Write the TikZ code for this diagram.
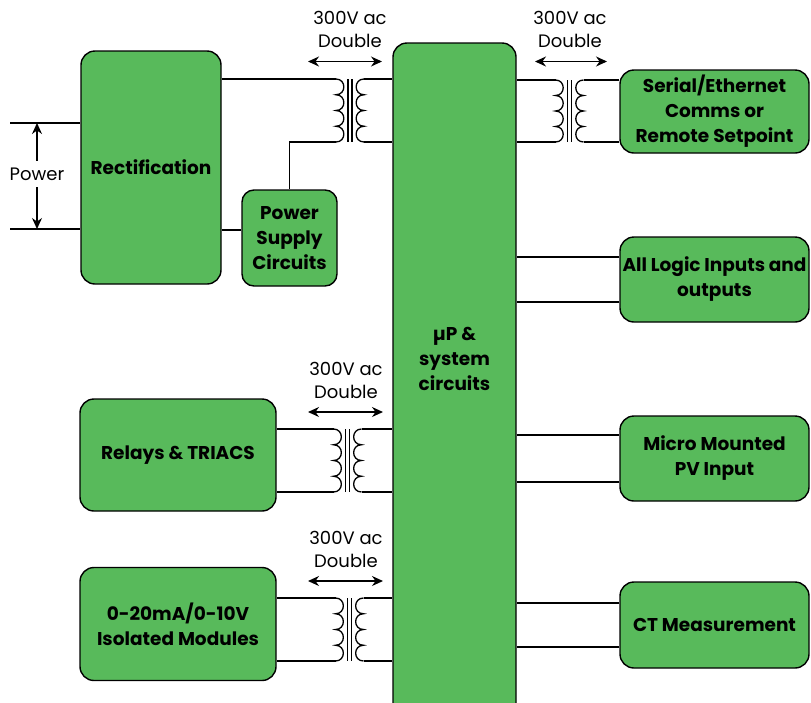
\documentclass[tikz,border=0pt]{standalone}
\usepackage{fontspec}
\setmainfont{Poppins}
\usetikzlibrary{calc,arrows.meta}
\definecolor{boxgreen}{RGB}{88,186,91}
\tikzset{
         blk/.style={draw=black,line width=1.4pt,fill=boxgreen,rounded corners=14pt,
                     align=center,inner sep=0pt,font=\fontsize{18.5}{25}\selectfont\bfseries},
         wire/.style={line width=1.4pt},
         coil/.style={line width=1.3pt},
         dim/.style={line width=1.3pt,>={Stealth[length=11pt,width=10pt]}},
         lbl/.style={align=center,inner sep=0pt,font=\fontsize{18}{23}\selectfont}
        }
% transformer: name, core x, top y, bottom y
\newcommand{\xfmr}[4]{%
    \coordinate (#1a) at (#2-14,#3); % left top
    \coordinate (#1b) at (#2-14,#4); % left bottom
    \coordinate (#1c) at (#2+14,#3); % right top
    \coordinate (#1d) at (#2+14,#4); % right bottom
    \draw[coil] (#2-2,#3) -- (#2-2,#4) (#2+2,#3) -- (#2+2,#4); % core
    \draw[coil] (#1a) \foreach \k in {1,...,4}{to[out=0,in=0,looseness=1.7] ++(0,{(#4-#3)/4})}; % left winding
    \draw[coil] (#1c) \foreach \k in {1,...,4}{to[out=180,in=180,looseness=1.7] ++(0,{(#4-#3)/4})}; % right winding
}
\begin{document}
\begin{tikzpicture}[x=1pt,y=-1pt]
    \useasboundingbox (0,0) rectangle (811,702);
    \node[blk,minimum width=140pt,minimum height=233pt] (rect) at (151,167.5) {Rectification}; % rectifier
    \node[blk,minimum width=95pt,minimum height=96pt,rounded corners=12pt] (psu) at (289.5,238) {Power\\Supply\\Circuits}; % supply
    \node[blk,minimum width=123pt,minimum height=680pt] (up) at (454.5,383) {}; % processor
    \node[blk,draw=none,fill=none] (uptxt) at (454.5,359) {µP \&\\system\\circuits}; % processor label
    \node[blk,minimum width=189pt,minimum height=83pt] (serial) at (714.5,111.5) {Serial/Ethernet\\Comms or\\Remote Setpoint}; % comms
    \node[blk,minimum width=189pt,minimum height=85pt] (logic) at (714.5,279.5) {\spaceskip=0.2em All Logic Inputs and\\outputs}; % logic io
    \node[blk,minimum width=189pt,minimum height=85pt] (pv) at (714.5,458.5) {Micro Mounted\\PV Input}; % pv input
    \node[blk,minimum width=189pt,minimum height=86pt] (ct) at (714.5,625) {CT Measurement}; % ct
    \node[blk,minimum width=196pt,minimum height=112pt] (relay) at (178,455) {Relays \& TRIACS}; % relays
    \node[blk,minimum width=196pt,minimum height=113pt] (mod) at (178,624) {0-20mA/0-10V\\Isolated Modules}; % modules
    \xfmr{ta}{350}{79}{142} % upper left transformer
    \xfmr{tb}{569.5}{80}{142} % upper right transformer
    \xfmr{tc}{347.5}{429}{492} % relay transformer
    \xfmr{td}{349.5}{598}{661} % module transformer
    % isolation labels
    \foreach \n/\x/\y/\l/\r in {1/350/29.5/308/382,2/570/29.5/535/607,3/346/380/308/383,4/346/549/308/383}{
        \node[lbl] (v\n) at (\x,\y) {300V ac\\Double};
        \coordinate (vl\n) at (\l,\y+32);
        \coordinate (vr\n) at (\r,\y+32);
        \draw[dim,<->] (vl\n) -- (vr\n);
    }
    % power input
    \coordinate (pwa) at (10,123);
    \coordinate (pwb) at (10,229);
    \draw[wire] (pwa) -- (pwa -| rect.west);
    \draw[wire] (pwb) -- (pwb -| rect.west);
    \node[lbl,minimum height=26pt] (pwr) at (37,174) {Power}; % Power label
    \draw[dim,->] (pwr.north) -- (pwr.north |- pwa);
    \draw[dim,->] (pwr.south) -- (pwr.south |- pwb);
    % wiring
    \draw[wire] (taa) -- (taa -| rect.east);
    \draw[wire] (tab) -| (psu.north);
    \coordinate (psuin) at ($(psu.west)+(0,-8)$);
    \draw[wire] (psuin) -- (psuin -| rect.east);
    \draw[wire] (tac) -- (tac -| up.west) (tad) -- (tad -| up.west);
    \draw[wire] (tba) -- (tba -| up.east) (tbb) -- (tbb -| up.east);
    \draw[wire] (tbc) -- (tbc -| serial.west) (tbd) -- (tbd -| serial.west);
    \draw[wire] (tca) -- (tca -| relay.east) (tcb) -- (tcb -| relay.east);
    \draw[wire] (tcc) -- (tcc -| up.west) (tcd) -- (tcd -| up.west);
    \draw[wire] (tda) -- (tda -| mod.east) (tdb) -- (tdb -| mod.east);
    \draw[wire] (tdc) -- (tdc -| up.west) (tdd) -- (tdd -| up.west);
    \foreach \b/\d in {logic/22.5,pv/23.5,ct/22}{
        \coordinate (\b1) at ($(\b.west)+(0,-\d)$);
        \coordinate (\b2) at ($(\b.west)+(0,\d)$);
        \draw[wire] (\b1) -- (\b1 -| up.east) (\b2) -- (\b2 -| up.east);
    }
\end{tikzpicture}
\end{document}
